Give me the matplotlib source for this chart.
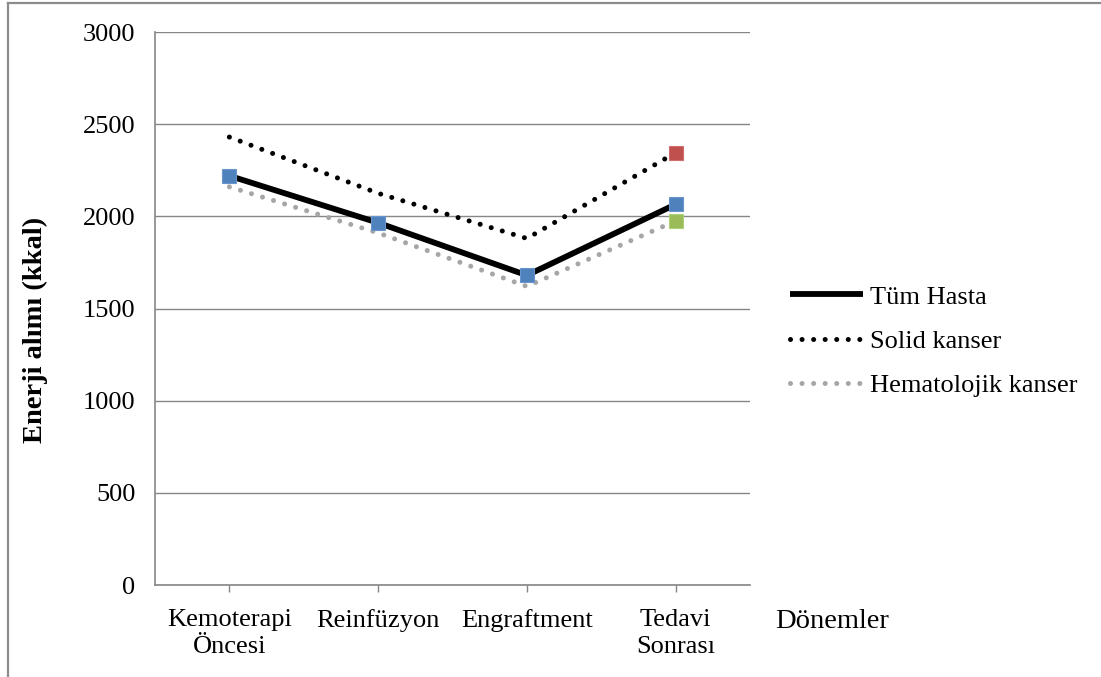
import matplotlib
matplotlib.use("Agg")
import matplotlib.pyplot as plt
from matplotlib.lines import Line2D

# data
categories = ["Kemoterapi\nÖncesi", "Reinfüzyon", "Engraftment", "Tedavi\nSonrası"]
tum_hasta = [2220, 1965, 1680, 2065]
solid = [2430, 2125, 1880, 2345]
hematolojik = [2160, 1910, 1620, 1975]
series_names = ["Tüm Hasta", "Solid kanser", "Hematolojik kanser"]
yticks = [0, 500, 1000, 1500, 2000, 2500, 3000]

plt.rcParams['font.family'] = ['Liberation Serif', 'DejaVu Serif']

fig = plt.figure(figsize=(11.01, 6.77), dpi=100)
ax = fig.add_axes([155/1101, 1-585/677, 595/1101, 553/677])

x = list(range(len(categories)))
grid_col = '#868686'
dot = (0, (0.01, 2.3))

ax.plot(x, tum_hasta, color='black', lw=4.2, solid_capstyle='butt',
        label=series_names[0], zorder=3)
ax.plot(x, solid, color='black', lw=3.6, linestyle=dot,
        dash_capstyle='round', label=series_names[1], zorder=3)
ax.plot(x, hematolojik, color='#a6a6a6', lw=3.6, linestyle=dot,
        dash_capstyle='round', label=series_names[2], zorder=2)

# point markers (only some points carry them in the original)
ax.plot(x, tum_hasta, 's', color='#4f81bd', mec='#6a95cc', mew=0.8, ms=10, zorder=5)
ax.plot(x[-1:], solid[-1:], 's', color='#c0504d', mec='#cf6e6b', mew=0.8, ms=10, zorder=5)
ax.plot(x[-1:], hematolojik[-1:], 's', color='#9bbb59', mec='#add07a', mew=0.8, ms=10, zorder=4)

ax.set_xlim(-0.5, len(categories) - 0.5)
ax.set_ylim(0, 3000)
ax.set_yticks(yticks)
ax.set_yticklabels([str(v) for v in yticks], fontsize=19)
ax.set_xticks(x)
ax.set_xticklabels(categories, fontsize=19, linespacing=1.3)
ax.tick_params(axis='y', length=0, pad=14)
ax.tick_params(axis='x', length=5, width=1, color=grid_col, pad=12)
ax.yaxis.grid(True, color=grid_col, lw=1)
ax.set_axisbelow(True)
for s in ['top', 'right']:
    ax.spines[s].set_visible(False)
for s in ['left', 'bottom']:
    ax.spines[s].set_color(grid_col)
    ax.spines[s].set_linewidth(1.2)

fig.text(35/1101, 1-330/677, "Enerji alımı (kkal)", rotation=90, fontsize=20.5,
         fontweight='bold', ha='center', va='center')
fig.text(775/1101, 1-621/677, "Dönemler", fontsize=20.5, ha='left', va='center')

handles = [
    Line2D([], [], color='black', lw=4.2, solid_capstyle='butt'),
    Line2D([], [], color='black', lw=3.6, linestyle=dot, dash_capstyle='round'),
    Line2D([], [], color='#a6a6a6', lw=3.6, linestyle=dot, dash_capstyle='round'),
]
fig.legend(handles, series_names, loc='center left', bbox_to_anchor=(790/1101, 1-341/677),
           frameon=False, fontsize=19, handlelength=2.75, handletextpad=0.3,
           labelspacing=0.78, borderaxespad=0, borderpad=0)

# chart-area frame (top and left edges visible)
fig.add_artist(Line2D([8/1101, 8/1101], [0, 1-3/677], color='#8c8c8c', lw=1.6,
                      transform=fig.transFigure))
fig.add_artist(Line2D([8/1101, 1], [1-3/677, 1-3/677], color='#8c8c8c', lw=1.6,
                      transform=fig.transFigure))

fig.savefig("out.png", dpi=100)
